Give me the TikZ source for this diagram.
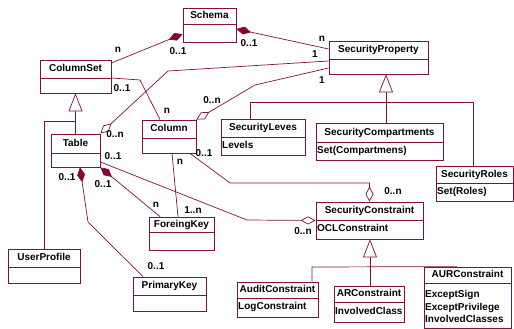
\documentclass[tikz,border=0pt]{standalone}
\usepackage{fontspec}
\setmainfont{Liberation Sans}
\usetikzlibrary{arrows.meta,fit}
\definecolor{umlline}{RGB}{128,16,64}
\definecolor{umldiam}{RGB}{140,0,48}

\begin{document}
\begin{tikzpicture}[x=1pt, y=-1pt,
    box/.style={draw=umlline, line width=0.8pt, inner sep=0pt},
    title/.style={font=\bfseries\fontsize{10}{12}\selectfont, inner sep=0pt, text height=7.2pt, text depth=2pt},
    attr/.style={title, anchor=west},
    mult/.style={title},
    uml/.style={draw=umlline, line width=0.7pt},
    comp/.style={uml, {Diamond[length=15pt, width=8pt, fill=umldiam]}-},
    aggr/.style={uml, {Diamond[length=15pt, width=8pt, fill=white]}-},
    gen/.style={uml, -{Triangle[length=18pt, width=14pt, fill=white]}}]
    \useasboundingbox (0,0) rectangle (514,329);

    \foreach \nm/\xa/\ya/\xb/\yb/\ys/\cname in {
        schema/183/8/236/42/24/Schema,
        colset/40/60/111/93/78/ColumnSet,
        table/51/134/100/167/153/Table,
        column/142/120/196/153/138/Column,
        userp/8/249/80/283/267/UserProfile,
        fkey/149/217/214/250/232/ForeingKey,
        pkey/133/277/206/311/295/PrimaryKey,
        sprop/329/41/428/74/59/SecurityProperty,
        slev/221/119/305/155/137/SecurityLeves,
        scomp/316/123/443/160/142/SecurityCompartments,
        sroles/436/166/513/201/183/SecurityRoles,
        sconstr/316/202/423/239/220/SecurityConstraint,
        audit/237/282/318/317/298/AuditConstraint,
        arc/334/286/404/322/302/ARConstraint,
        aur/424/267/511/328/283/AURConstraint}
    {
        \node[box, fit={(\xa,\ya) (\xb,\yb)}] (\nm) {};
        \draw[uml] (\xa,\ys) -- (\xb,\ys);
        \node[title] (\nm-t) at ({(\xa+\xb)/2}, {(\ya+\ys)/2}) {\cname};
    }

    \node[attr] (slev-a) at (222,146) {Levels};
    \node[attr] (scomp-a) at (317,151) {Set(Compartmens)};
    \node[attr] (sroles-a) at (437,192) {Set(Roles)};
    \node[attr] (sconstr-a) at (317,229) {OCLConstraint};
    \node[attr] (audit-a) at (238,307) {LogConstraint};
    \node[attr] (arc-a) at (335,312) {InvolvedClass};
    \foreach \a [count=\i] in {ExceptSign, ExceptPrivilege, InvolvedClasses}
    {\node[attr] (aur-a\i) at (425, 282.5+12.5*\i) {\a};}

    \draw[comp] (schema.west |- 0,34) -- (colset.east |- 0,63);
    \draw[comp] (schema.east |- 0,29) -- (sprop.west |- 0,49);
    \draw[uml] (colset.east |- 0,78) -- (140,80) -- (column.north -| 160,0);
    \draw[gen] (table.north) -- (table.north |- 0,121) -- (colset.south);
    \draw[uml] (userp.north) |- (table.north |- 0,121);
    \draw[aggr] (table.north east) -- (168,71) -- (sprop.west |- 0,61);
    \draw[aggr] (column.north east) -- (255,85) -- (sprop.west |- 0,68);
    \draw[aggr] (sconstr.north) -- (sconstr.north |- 0,183) -- (230,183) -- (column.south -| 190,0);
    \draw[aggr] (sconstr.west) -- (247,220) -- (table.east |- 0,162);
    \draw[comp] (table.south east) -- (fkey.north -| 160,0);
    \draw[comp] (table.south -| 80,0) -- (88,222) -- (pkey.north -| 143,0);
    \draw[uml] (column.south -| 172,0) -- (fkey.north -| 178,0);

    \draw[gen] (scomp.north -| 386,0) -- (sprop.south -| 386,0);
    \draw[uml] (slev.north -| 250,0) -- (250,102) -- (473,102) -- (sroles.north -| 473,0);
    \draw[gen] (arc.north -| 370,0) -- (sconstr.south -| 370,0);
    \draw[uml] (audit.north -| 312,0) -- (312,267) -- (aur.north -| 457,0);

    \foreach \x/\y/\l [count=\i] in {118/50/n, 178/52/0..1, 249/44/0..1, 322/39/n,
        122/89/0..1, 167/111/n, 115/135/0..n, 315/55/1, 212/101/0..n, 322/81/1,
        204/154/0..1, 393/192/0..n, 113/157/0..1, 303/232/0..n, 103/185/0..1,
        156/205/n, 67/178/0..1, 156/267/0..1, 180/162/n, 193/211/1..n}
    {\node[mult] (m\i) at (\x,\y) {\l};}
\end{tikzpicture}
\end{document}
